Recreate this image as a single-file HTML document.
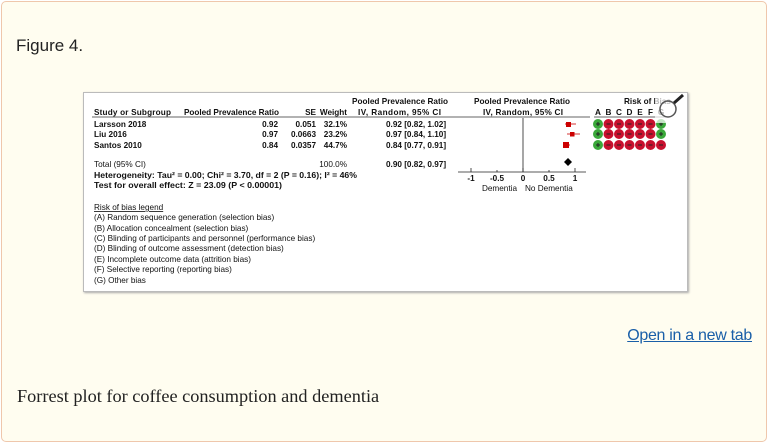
<!DOCTYPE html>
<html><head><meta charset="utf-8"><style>
html,body{margin:0;padding:0;background:#fff;}
.panel{position:absolute;left:1px;top:1px;width:764px;height:439px;background:#fffdf0;border:1px solid #efc7ac;border-radius:5px;}
.fig{position:absolute;left:16px;top:36px;font:17px "Liberation Sans",sans-serif;color:#222;}
.link{position:absolute;right:16px;top:327px;font:16px "Liberation Sans",sans-serif;color:#1a5fa8;text-decoration:underline;letter-spacing:-0.3px}
.cap{position:absolute;left:17px;top:386px;font:18.3px "Liberation Serif",serif;color:#222;}
.box{position:absolute;left:83px;top:92px;width:603px;height:198px;background:#fff;border:1px solid #bbb;box-shadow:1px 1px 2px #aaa;}
svg{position:absolute;left:0;top:0}
text{font-family:"Liberation Sans",sans-serif;font-size:8.2px;font-weight:bold;fill:#111}
.n{font-weight:normal}
</style></head><body>
<div class="panel"></div>
<div class="fig">Figure 4.</div>
<div class="box"></div>
<svg width="768" height="443">
<text x="352" y="104" textLength="96">Pooled Prevalence Ratio</text>
<text x="474" y="104" textLength="96">Pooled Prevalence Ratio</text>
<text x="624" y="104">Risk of Bias</text>
<text x="94" y="115" textLength="77">Study or Subgroup</text>
<text x="184" y="115" textLength="95">Pooled Prevalence Ratio</text>
<text x="316" y="115" text-anchor="end">SE</text>
<text x="347" y="115" text-anchor="end">Weight</text>
<text x="358" y="115" textLength="83">IV, Random, 95% CI</text>
<text x="483" y="115" textLength="80">IV, Random, 95% CI</text>
<g text-anchor="middle"><text x="598" y="115">A</text><text x="608.5" y="115">B</text><text x="619" y="115">C</text><text x="629.5" y="115">D</text><text x="640" y="115">E</text><text x="650.5" y="115">F</text><text x="661" y="115">G</text></g>
<line x1="92" y1="117" x2="590" y2="117" stroke="#333" stroke-width="0.7"/>
<line x1="594" y1="117" x2="666" y2="117" stroke="#333" stroke-width="0.7"/>
<text x="94" y="127">Larsson 2018</text><text x="278" y="127" text-anchor="end">0.92</text><text x="316" y="127" text-anchor="end">0.051</text><text x="347" y="127" text-anchor="end">32.1%</text><text x="386" y="127">0.92 [0.82, 1.02]</text>
<text x="94" y="137">Liu 2016</text><text x="278" y="137" text-anchor="end">0.97</text><text x="316" y="137" text-anchor="end">0.0663</text><text x="347" y="137" text-anchor="end">23.2%</text><text x="386" y="137">0.97 [0.84, 1.10]</text>
<text x="94" y="148">Santos 2010</text><text x="278" y="148" text-anchor="end">0.84</text><text x="316" y="148" text-anchor="end">0.0357</text><text x="347" y="148" text-anchor="end">44.7%</text><text x="386" y="148">0.84 [0.77, 0.91]</text>
<text x="94" y="167" class="n">Total (95% CI)</text><text x="347" y="167" text-anchor="end" class="n">100.0%</text><text x="386" y="167">0.90 [0.82, 0.97]</text>
<text x="94" y="178" textLength="263" lengthAdjust="spacingAndGlyphs">Heterogeneity: Tau² = 0.00; Chi² = 3.70, df = 2 (P = 0.16); I² = 46%</text>
<text x="94" y="188" textLength="188" lengthAdjust="spacingAndGlyphs">Test for overall effect: Z = 23.09 (P &lt; 0.00001)</text>
<line x1="523" y1="118" x2="523" y2="172" stroke="#222" stroke-width="0.8"/>
<line x1="458" y1="172" x2="586" y2="172" stroke="#222" stroke-width="0.8"/>
<g stroke="#222" stroke-width="0.8"><line x1="471" y1="168" x2="471" y2="172"/><line x1="497" y1="170" x2="497" y2="172"/><line x1="523" y1="168" x2="523" y2="172"/><line x1="549" y1="170" x2="549" y2="172"/><line x1="575" y1="168" x2="575" y2="172"/></g>
<g text-anchor="middle"><text x="471" y="181">-1</text><text x="497" y="181">-0.5</text><text x="523" y="181">0</text><text x="549" y="181">0.5</text><text x="575" y="181">1</text></g>
<text x="517" y="191" text-anchor="end" class="n">Dementia</text>
<text x="525" y="191" class="n">No Dementia</text>
<g stroke="#c00" stroke-width="0.8"><line x1="565" y1="124" x2="576" y2="124"/><line x1="567" y1="134" x2="580" y2="134"/><line x1="563" y1="145" x2="570" y2="145"/></g>
<rect x="566" y="122" width="5" height="5" fill="#c00"/>
<rect x="570" y="132" width="4.5" height="4.5" fill="#c00"/>
<rect x="563" y="142" width="6" height="6" fill="#c00"/>
<polygon points="568,158 572,162 568,166 564,162" fill="#000"/>
<text x="94" y="210" class="n" style="text-decoration:underline">Risk of bias legend</text>
<text x="94" y="220" class="n">(A) Random sequence generation (selection bias)</text>
<text x="94" y="231" class="n">(B) Allocation concealment (selection bias)</text>
<text x="94" y="241" class="n">(C) Blinding of participants and personnel (performance bias)</text>
<text x="94" y="251" class="n">(D) Blinding of outcome assessment (detection bias)</text>
<text x="94" y="262" class="n">(E) Incomplete outcome data (attrition bias)</text>
<text x="94" y="272" class="n">(F) Selective reporting (reporting bias)</text>
<text x="94" y="283" class="n">(G) Other bias</text>
<g>
<circle cx="598" cy="124" r="5" fill="#3aa83a"/><circle cx="608.5" cy="124" r="5" fill="#c8102e"/><circle cx="619" cy="124" r="5" fill="#c8102e"/><circle cx="629.5" cy="124" r="5" fill="#c8102e"/><circle cx="640" cy="124" r="5" fill="#c8102e"/><circle cx="650.5" cy="124" r="5" fill="#c8102e"/><circle cx="661" cy="124" r="5" fill="#3aa83a"/>
<circle cx="598" cy="134" r="5" fill="#3aa83a"/><circle cx="608.5" cy="134" r="5" fill="#c8102e"/><circle cx="619" cy="134" r="5" fill="#c8102e"/><circle cx="629.5" cy="134" r="5" fill="#c8102e"/><circle cx="640" cy="134" r="5" fill="#c8102e"/><circle cx="650.5" cy="134" r="5" fill="#c8102e"/><circle cx="661" cy="134" r="5" fill="#3aa83a"/>
<circle cx="598" cy="145" r="5" fill="#3aa83a"/><circle cx="608.5" cy="145" r="5" fill="#c8102e"/><circle cx="619" cy="145" r="5" fill="#c8102e"/><circle cx="629.5" cy="145" r="5" fill="#c8102e"/><circle cx="640" cy="145" r="5" fill="#c8102e"/><circle cx="650.5" cy="145" r="5" fill="#c8102e"/><circle cx="661" cy="145" r="5" fill="#c8102e"/>
</g>
<g stroke="#222" stroke-width="1">
<path d="M596 124h4M598 122v4M659 124h4M661 122v4M596 134h4M598 132v4M659 134h4M661 132v4M596 145h4M598 143v4"/>
<path d="M606.5 124h4M617 124h4M627.5 124h4M638 124h4M648.5 124h4M606.5 134h4M617 134h4M627.5 134h4M638 134h4M648.5 134h4M606.5 145h4M617 145h4M627.5 145h4M638 145h4M648.5 145h4M659 145h4"/>
</g>
<rect x="655" y="93" width="31" height="30" fill="#fff" opacity="0.7"/>
<circle cx="668" cy="109" r="8" fill="none" stroke="#555" stroke-width="1.5"/>
<line x1="674" y1="103" x2="683" y2="95" stroke="#222" stroke-width="3"/>
</svg>
<div class="link">Open in a new tab</div>
<div class="cap">Forrest plot for coffee consumption and dementia</div>
</body></html>
